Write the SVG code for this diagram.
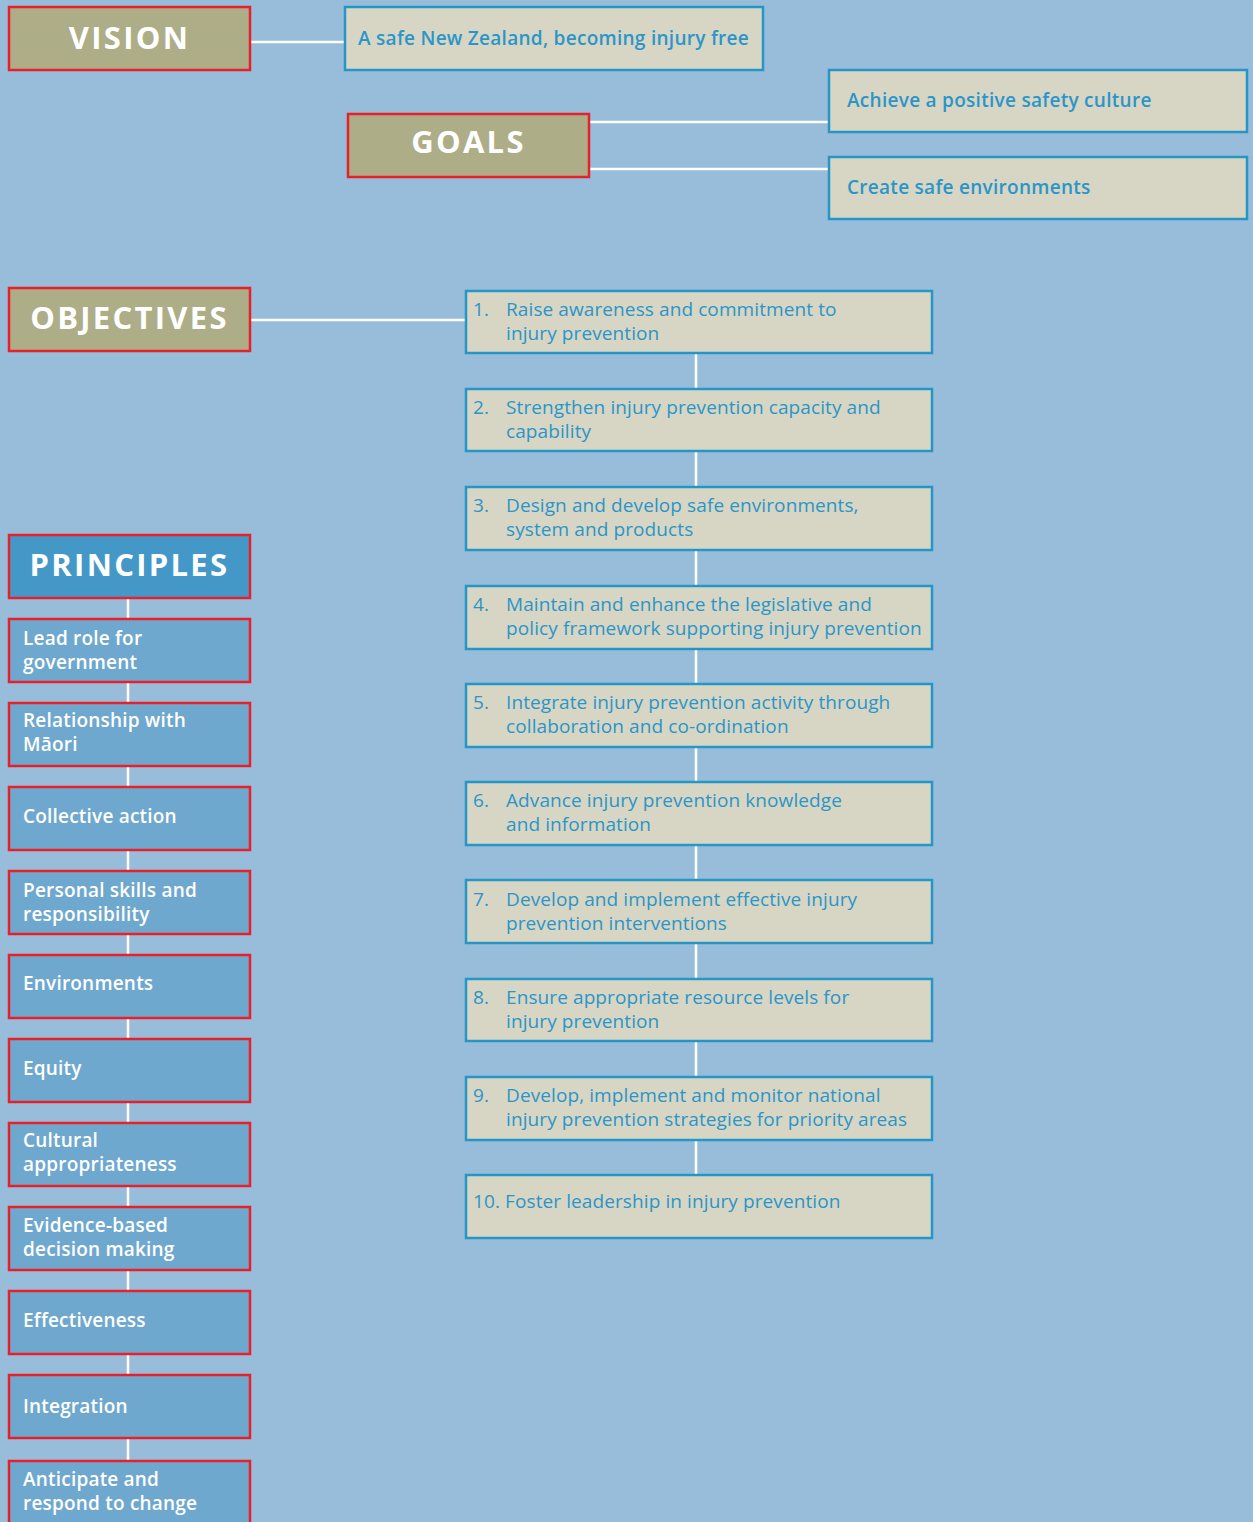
<svg xmlns="http://www.w3.org/2000/svg" width="1253" height="1522" viewBox="0 0 1253 1522">
<style>
.hdr{fill:#adad88;stroke:#e8202a;stroke-width:2.5}
.phdr{fill:#4398c8;stroke:#e8202a;stroke-width:2.5}
.pbox{fill:#6fa8ce;stroke:#e8202a;stroke-width:2.5}
.tbox{fill:#d7d6c4;stroke:#2596c6;stroke-width:2.5}
.ht{font-family:"Open Sans","DejaVu Sans",sans-serif;font-weight:700;font-size:31px;fill:#ffffff;text-anchor:middle;letter-spacing:2.3px}
.pt{font-family:"Open Sans","DejaVu Sans",sans-serif;font-weight:600;font-size:19px;fill:#ffffff;letter-spacing:0.2px}
.gt{font-family:"Open Sans","DejaVu Sans",sans-serif;font-weight:600;font-size:19px;fill:#2b95c8;letter-spacing:0.28px}
.ot{font-family:"Open Sans","DejaVu Sans",sans-serif;font-size:19px;fill:#2b95c8;letter-spacing:0.1px}
.ln{stroke:#ffffff;stroke-width:2.5;fill:none}
</style>
<rect width="1253" height="1522" fill="#97bddb"/>
<g id="connectors">
<line class="ln" x1="251" y1="42" x2="345" y2="42"/>
<line class="ln" x1="590" y1="122" x2="829" y2="122"/>
<line class="ln" x1="590" y1="169" x2="829" y2="169"/>
<line class="ln" x1="251" y1="320" x2="466" y2="320"/>
<line class="ln" x1="696" y1="354" x2="696" y2="1175"/>
<line class="ln" x1="128" y1="598" x2="128" y2="1461"/>
</g>
<g id="vision"><rect class="hdr" x="9" y="7" width="241" height="63"/><text class="ht" x="129.5" y="49">VISION</text></g>
<g id="vision-text"><rect class="tbox" x="345" y="7" width="418" height="63"/><text class="gt" x="358" y="45">A safe New Zealand, becoming injury free</text></g>
<g id="goals"><rect class="hdr" x="348" y="114" width="241" height="63"/><text class="ht" x="468.5" y="153">GOALS</text></g>
<g id="goal1"><rect class="tbox" x="829" y="70" width="418" height="62"/><text class="gt" x="847" y="107">Achieve a positive safety culture</text></g>
<g id="goal2"><rect class="tbox" x="829" y="157" width="418" height="62"/><text class="gt" x="847" y="194">Create safe environments</text></g>
<g id="objectives"><rect class="hdr" x="9" y="288" width="241" height="63"/><text class="ht" x="129.5" y="329">OBJECTIVES</text></g>
<g id="obj1"><rect class="tbox" x="466" y="291" width="466" height="62"/><text class="ot" x="473" y="316">1.</text><text class="ot" x="506" y="316">Raise awareness and commitment to</text><text class="ot" x="506" y="340">injury prevention</text></g>
<g id="obj2"><rect class="tbox" x="466" y="389" width="466" height="62"/><text class="ot" x="473" y="414">2.</text><text class="ot" x="506" y="414">Strengthen injury prevention capacity and</text><text class="ot" x="506" y="438">capability</text></g>
<g id="obj3"><rect class="tbox" x="466" y="487" width="466" height="63"/><text class="ot" x="473" y="512">3.</text><text class="ot" x="506" y="512">Design and develop safe environments,</text><text class="ot" x="506" y="536">system and products</text></g>
<g id="obj4"><rect class="tbox" x="466" y="586" width="466" height="63"/><text class="ot" x="473" y="611">4.</text><text class="ot" x="506" y="611">Maintain and enhance the legislative and</text><text class="ot" x="506" y="635">policy framework supporting injury prevention</text></g>
<g id="obj5"><rect class="tbox" x="466" y="684" width="466" height="63"/><text class="ot" x="473" y="709">5.</text><text class="ot" x="506" y="709">Integrate injury prevention activity through</text><text class="ot" x="506" y="733">collaboration and co-ordination</text></g>
<g id="obj6"><rect class="tbox" x="466" y="782" width="466" height="63"/><text class="ot" x="473" y="807">6.</text><text class="ot" x="506" y="807">Advance injury prevention knowledge</text><text class="ot" x="506" y="831">and information</text></g>
<g id="obj7"><rect class="tbox" x="466" y="880" width="466" height="63"/><text class="ot" x="473" y="906">7.</text><text class="ot" x="506" y="906">Develop and implement effective injury</text><text class="ot" x="506" y="930">prevention interventions</text></g>
<g id="obj8"><rect class="tbox" x="466" y="979" width="466" height="62"/><text class="ot" x="473" y="1004">8.</text><text class="ot" x="506" y="1004">Ensure appropriate resource levels for</text><text class="ot" x="506" y="1028">injury prevention</text></g>
<g id="obj9"><rect class="tbox" x="466" y="1077" width="466" height="63"/><text class="ot" x="473" y="1102">9.</text><text class="ot" x="506" y="1102">Develop, implement and monitor national</text><text class="ot" x="506" y="1126">injury prevention strategies for priority areas</text></g>
<g id="obj10"><rect class="tbox" x="466" y="1175" width="466" height="63"/><text class="ot" x="473" y="1208">10. Foster leadership in injury prevention</text></g>
<g id="principles"><rect class="phdr" x="9" y="535" width="241" height="63"/><text class="ht" x="129.5" y="576">PRINCIPLES</text></g>
<g id="p1"><rect class="pbox" x="9" y="619" width="241" height="63"/><text class="pt" x="23" y="645">Lead role for</text><text class="pt" x="23" y="669">government</text></g>
<g id="p2"><rect class="pbox" x="9" y="703" width="241" height="63"/><text class="pt" x="23" y="727">Relationship with</text><text class="pt" x="23" y="751">Māori</text></g>
<g id="p3"><rect class="pbox" x="9" y="787" width="241" height="63"/><text class="pt" x="23" y="823">Collective action</text></g>
<g id="p4"><rect class="pbox" x="9" y="871" width="241" height="63"/><text class="pt" x="23" y="897">Personal skills and</text><text class="pt" x="23" y="921">responsibility</text></g>
<g id="p5"><rect class="pbox" x="9" y="955" width="241" height="63"/><text class="pt" x="23" y="990">Environments</text></g>
<g id="p6"><rect class="pbox" x="9" y="1039" width="241" height="63"/><text class="pt" x="23" y="1075">Equity</text></g>
<g id="p7"><rect class="pbox" x="9" y="1123" width="241" height="63"/><text class="pt" x="23" y="1147">Cultural</text><text class="pt" x="23" y="1171">appropriateness</text></g>
<g id="p8"><rect class="pbox" x="9" y="1207" width="241" height="63"/><text class="pt" x="23" y="1232">Evidence-based</text><text class="pt" x="23" y="1256">decision making</text></g>
<g id="p9"><rect class="pbox" x="9" y="1291" width="241" height="63"/><text class="pt" x="23" y="1327">Effectiveness</text></g>
<g id="p10"><rect class="pbox" x="9" y="1375" width="241" height="63"/><text class="pt" x="23" y="1413">Integration</text></g>
<g id="p11"><rect class="pbox" x="9" y="1461" width="241" height="70"/><text class="pt" x="23" y="1486">Anticipate and</text><text class="pt" x="23" y="1510">respond to change</text></g>
</svg>
